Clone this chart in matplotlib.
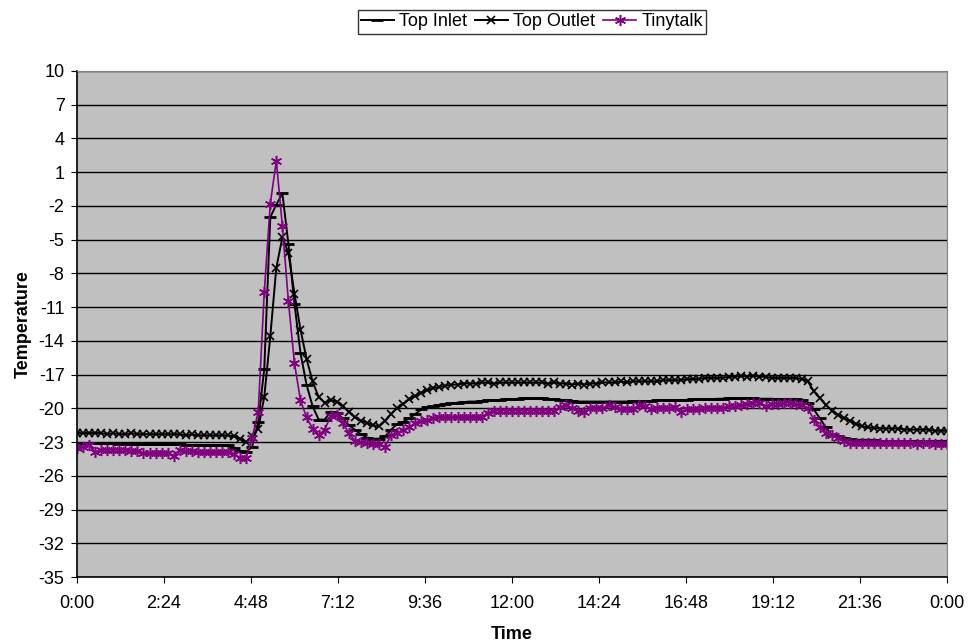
import matplotlib
matplotlib.use("Agg")
import matplotlib.pyplot as plt
import numpy as np

plt.rcParams['font.family'] = ['Liberation Sans', 'DejaVu Sans']

# readings every 10 minutes, index 0 = 0:00, index 144 = 24:00
step_minutes = 10

top_inlet = [
    -23.1, -23.1, -23.1, -23.1, -23.1, -23.1, -23.1, -23.2, -23.2, -23.2, -23.2, -23.2,
    -23.2, -23.2, -23.2, -23.2, -23.2, -23.2, -23.3, -23.3, -23.3, -23.3, -23.3, -23.3,
    -23.3, -23.3, -23.5, -23.8, -23.9, -23.4, -21.2, -16.5, -3.0, -1.9, -0.9, -5.4,
    -10.7, -15.1, -17.9, -19.8, -21.0, -21.0, -20.3, -20.4, -20.9, -21.5, -21.9, -22.3,
    -22.6, -22.7, -22.7, -22.5, -21.9, -21.4, -21.2, -20.9, -20.5, -20.1, -19.9, -19.8,
    -19.7, -19.6, -19.55, -19.5, -19.45, -19.4, -19.4, -19.35, -19.3, -19.3, -19.25, -19.2,
    -19.2, -19.15, -19.1, -19.1, -19.1, -19.1, -19.15, -19.2, -19.25, -19.3, -19.35, -19.4,
    -19.4, -19.4, -19.4, -19.4, -19.4, -19.4, -19.4, -19.4, -19.35, -19.35, -19.35, -19.35,
    -19.3, -19.3, -19.3, -19.3, -19.3, -19.25, -19.2, -19.2, -19.2, -19.2, -19.15, -19.15,
    -19.1, -19.1, -19.1, -19.1, -19.1, -19.15, -19.15, -19.15, -19.2, -19.2, -19.2, -19.2,
    -19.3, -19.5, -20.1, -20.9, -21.7, -22.4, -22.5, -22.6, -22.7, -22.8, -22.8, -22.8,
    -22.8, -22.9, -22.9, -22.9, -22.9, -22.9, -22.9, -22.9, -22.9, -22.9, -22.9, -22.9,
    -22.9,
]

top_outlet = [
    -22.2, -22.2, -22.2, -22.2, -22.2, -22.3, -22.2, -22.3, -22.3, -22.2, -22.3, -22.3,
    -22.3, -22.3, -22.3, -22.3, -22.3, -22.3, -22.4, -22.3, -22.4, -22.4, -22.4, -22.4,
    -22.4, -22.4, -22.5, -22.7, -23.0, -22.5, -21.8, -19.0, -13.6, -7.5, -4.8, -6.2,
    -9.8, -13.0, -15.6, -17.6, -19.0, -19.5, -19.3, -19.4, -19.8, -20.3, -20.8, -21.1,
    -21.3, -21.5, -21.6, -21.1, -20.5, -20.0, -19.6, -19.2, -18.9, -18.6, -18.4, -18.2,
    -18.1, -18.0, -17.9, -17.9, -17.8, -17.8, -17.8, -17.7, -17.7, -17.8, -17.7, -17.7,
    -17.7, -17.7, -17.7, -17.7, -17.7, -17.7, -17.8, -17.7, -17.8, -17.8, -17.9, -17.8,
    -17.9, -17.8, -17.8, -17.7, -17.7, -17.7, -17.6, -17.7, -17.6, -17.6, -17.6, -17.6,
    -17.6, -17.5, -17.5, -17.5, -17.5, -17.4, -17.4, -17.4, -17.3, -17.3, -17.3, -17.3,
    -17.2, -17.2, -17.1, -17.2, -17.1, -17.2, -17.2, -17.3, -17.3, -17.3, -17.3, -17.3,
    -17.4, -17.6, -18.5, -19.1, -19.7, -20.2, -20.6, -20.9, -21.1, -21.4, -21.6, -21.7,
    -21.75, -21.8, -21.8, -21.8, -21.8, -21.9, -21.9, -21.9, -21.9, -21.9, -22.0, -22.0,
    -22.0,
]

tinytalk = [
    -23.5, -23.4, -23.3, -23.9, -23.7, -23.7, -23.7, -23.7, -23.7, -23.8, -23.8, -24.0,
    -24.0, -24.0, -24.0, -24.0, -24.2, -23.7, -23.8, -23.8, -23.9, -23.9, -23.9, -23.9,
    -23.9, -23.9, -24.1, -24.4, -24.4, -22.6, -20.3, -9.7, -1.8, 2.0, -3.8, -10.5,
    -16.0, -19.3, -20.8, -21.8, -22.4, -21.9, -20.7, -20.6, -21.3, -22.2, -22.9, -23.0,
    -23.1, -23.2, -23.2, -23.4, -22.4, -22.2, -21.9, -21.7, -21.3, -21.1, -21.0, -20.9,
    -20.8, -20.8, -20.8, -20.8, -20.8, -20.8, -20.8, -20.8, -20.4, -20.2, -20.2, -20.2,
    -20.2, -20.2, -20.2, -20.2, -20.2, -20.2, -20.2, -20.2, -19.9, -19.7, -20.0, -20.2,
    -20.3, -20.0, -20.0, -20.0, -19.7, -19.9, -20.1, -20.1, -20.1, -19.7, -19.8, -20.1,
    -20.0, -20.0, -20.0, -19.9, -20.3, -20.1, -20.1, -20.1, -20.0, -20.0, -20.0, -20.0,
    -19.8, -19.8, -19.7, -19.6, -19.5, -19.5, -19.8, -19.6, -19.6, -19.5, -19.5, -19.6,
    -19.7, -20.0, -21.0, -21.7, -22.2, -22.4, -22.6, -22.9, -23.1, -23.1, -23.1, -23.1,
    -23.1, -23.1, -23.1, -23.1, -23.1, -23.1, -23.1, -23.2, -23.1, -23.1, -23.2, -23.2,
    -23.2,
]

x_tick_labels = ["0:00", "2:24", "4:48", "7:12", "9:36", "12:00",
                 "14:24", "16:48", "19:12", "21:36", "0:00"]
y_ticks = list(range(-35, 11, 3))

hours = np.arange(len(top_inlet)) * step_minutes / 60.0

fig = plt.figure(figsize=(9.69, 6.44), dpi=100)
ax = fig.add_axes([0.0795, 0.104, 0.8975, 0.786])
ax.set_facecolor('#C0C0C0')

ax.plot(hours, top_inlet, color='black', lw=1.4, marker='_', ms=9, mew=2,
        label='Top Inlet')
ax.plot(hours, top_outlet, color='black', lw=1.4, marker='x', ms=6, mew=1.2,
        label='Top Outlet')
ax.plot(hours, tinytalk, color='#800080', lw=1.2, marker=(6, 2, 0), ms=8, mew=1.1,
        label='Tinytalk')

ax.set_xlim(0, 24)
ax.set_ylim(-35, 10)
ax.set_xticks(np.arange(len(x_tick_labels)) * 2.4)
ax.set_xticklabels(x_tick_labels, fontsize=13)
ax.set_yticks(y_ticks)
ax.set_yticklabels([str(v) for v in y_ticks], fontsize=13)
ax.yaxis.grid(True, color='black', lw=1)
ax.set_axisbelow(True)
ax.tick_params(direction='out', length=4, color='black')
ax.tick_params(axis='x', pad=9)
ax.tick_params(axis='y', pad=5)

for side in ['top', 'right']:
    ax.spines[side].set_color('#808080')
for side in ['left', 'bottom']:
    ax.spines[side].set_color('black')
    ax.spines[side].set_linewidth(1.2)

ax.set_xlabel('Time', fontsize=13, fontweight='bold', labelpad=10)
ax.set_ylabel('Temperature', fontsize=13, fontweight='bold', labelpad=5)

leg = fig.legend(loc='center', bbox_to_anchor=(532 / 969, 1 - 22 / 644), ncol=3,
                 fontsize=13, frameon=True, fancybox=False, edgecolor='black',
                 handlelength=1.8, handletextpad=0.3, columnspacing=0.45,
                 borderpad=0.2, borderaxespad=0)
leg.get_frame().set_linewidth(1.0)

fig.savefig('out.png', dpi=100)
